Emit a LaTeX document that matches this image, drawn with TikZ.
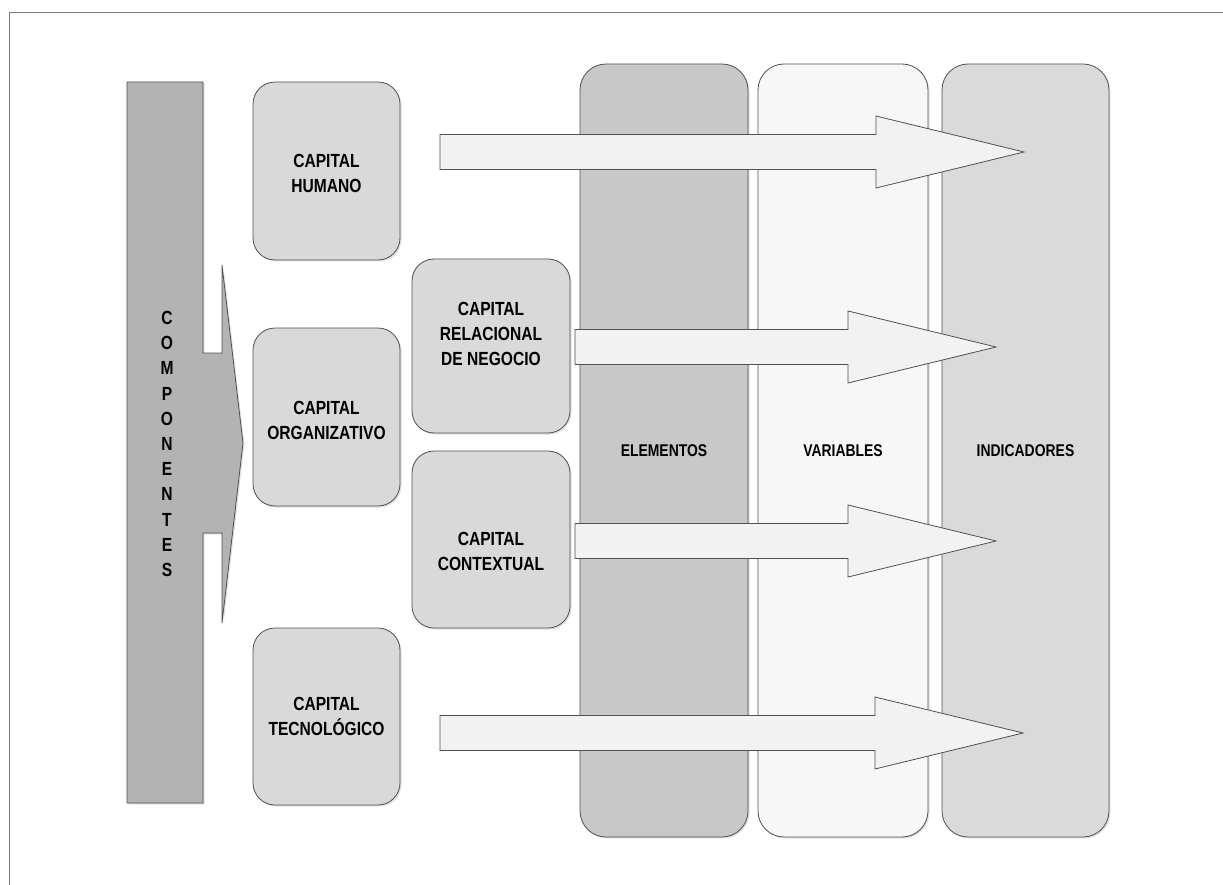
\documentclass[tikz,border=0pt]{standalone}
\usepackage{fontspec}
\setmainfont{Liberation Sans}[FakeStretch=0.82]
\usetikzlibrary{calc,shadows}
\definecolor{framegray}{HTML}{7A7A7A}
\definecolor{edgegray}{HTML}{505050}
\definecolor{compfill}{HTML}{B3B3B3}
\definecolor{boxfill}{HTML}{D9D9D9}
\definecolor{colE}{HTML}{C8C8C8}
\definecolor{colV}{HTML}{F7F7F7}
\definecolor{colI}{HTML}{DADADA}
\definecolor{arrowfill}{HTML}{F2F2F2}
\newcommand\blockarrow[2]{%
  \draw[arrowshape] let \p1=(#1), \p2=(#2) in
    (\x1,\y1+17.5pt) -- (\x2-148pt,\y1+17.5pt) -- (\x2-148pt,\y1+36pt) --
    (\x2,\y2) -- (\x2-148pt,\y1-36pt) -- (\x2-148pt,\y1-17.5pt) --
    (\x1,\y1-17.5pt) -- cycle;}
\begin{document}
\begin{tikzpicture}[x=1pt,y=-1pt,
  frameline/.style={draw=framegray, line width=1.6pt},
  softshadow/.style={drop shadow={shadow xshift=1.5pt, shadow yshift=-1.5pt, fill=black, opacity=0.12}},
  colbox/.style={draw=edgegray, line width=0.8pt, rounded corners=26pt, softshadow,
    inner sep=0pt, font=\bfseries\fontsize{17}{20}\selectfont},
  capbox/.style={draw=edgegray, line width=0.8pt, rounded corners=22pt, fill=boxfill, softshadow, inner sep=0pt},
  captext/.style={align=center, inner sep=0pt, font=\bfseries\fontsize{19}{25}\selectfont},
  comptext/.style={align=center, inner sep=0pt, font=\bfseries\fontsize{19}{25.2}\selectfont},
  compshape/.style={draw=edgegray, line width=0.8pt, fill=compfill, softshadow},
  arrowshape/.style={draw=edgegray, line width=0.8pt, fill=arrowfill, line join=miter}
]
\useasboundingbox (0,0) rectangle (1223,885);
% frame
\draw[frameline] (9.5,885) -- (9.5,12.5) -- (1223,12.5);

% tall columns
\node[colbox, fill=colE, minimum width=168, minimum height=773] (elem) at (664,450.5) {ELEMENTOS};
\node[colbox, fill=colV, minimum width=170, minimum height=773] (vari) at (843,450.5) {VARIABLES};
\node[colbox, fill=colI, minimum width=167, minimum height=773] (indi) at (1025.5,450.5) {INDICADORES};

% components bar with arrow
\path[compshape] (127,82) -- (203,82) -- (203,353) -- (222,353) -- (222,265) -- (243,443)
  -- (222,623) -- (222,533) -- (203,533) -- (203,803) -- (127,803) -- cycle;
\node[comptext] (comp) at (167,444) {C\\O\\M\\P\\O\\N\\E\\N\\T\\E\\S};

% block arrows
\coordinate (a1s) at (440,152);  \coordinate (a1t) at (1024,152);
\coordinate (a2s) at (575,347);  \coordinate (a2t) at (996,347);
\coordinate (a3s) at (575,541);  \coordinate (a3t) at (996,541);
\coordinate (a4s) at (440,733);  \coordinate (a4t) at (1023,733);
\blockarrow{a1s}{a1t}
\blockarrow{a2s}{a2t}
\blockarrow{a3s}{a3t}
\blockarrow{a4s}{a4t}

% capital boxes
\node[capbox, minimum width=147, minimum height=178] (hum) at (326.5,171) {};
\node[captext] (humt) at ([yshift=-2pt]hum.center) {CAPITAL\\HUMANO};
\node[capbox, minimum width=147, minimum height=178] (org) at (326.5,417) {};
\node[captext] (orgt) at ([yshift=-3pt]org.center) {CAPITAL\\ORGANIZATIVO};
\node[capbox, minimum width=147, minimum height=177] (tec) at (326.5,716.5) {};
\node[captext] (tect) at (tec.center) {CAPITAL\\TECNOLÓGICO};
\node[capbox, minimum width=158, minimum height=174] (rel) at (491,346) {};
\node[captext] (relt) at ([yshift=12pt]rel.center) {CAPITAL\\RELACIONAL\\DE NEGOCIO};
\node[capbox, minimum width=158, minimum height=177] (ctx) at (491,539.5) {};
\node[captext] (ctxt) at ([yshift=-12pt]ctx.center) {CAPITAL\\CONTEXTUAL};
\end{tikzpicture}
\end{document}
